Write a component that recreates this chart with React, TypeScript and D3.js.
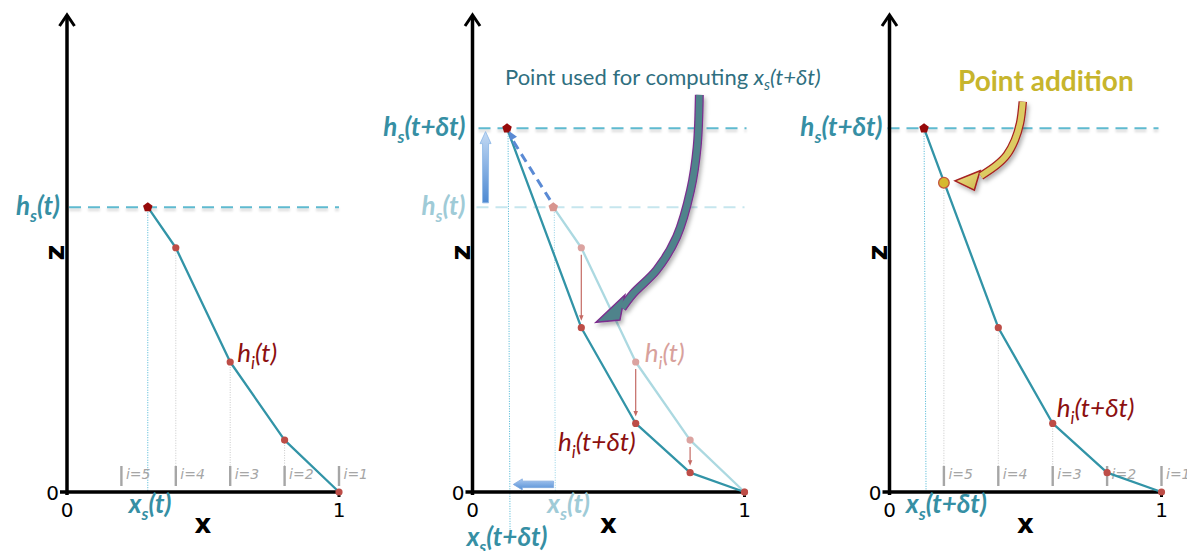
import React from 'react';
import * as d3 from 'd3';

// ---------- data ----------
const gridX = [0.2, 0.4, 0.6, 0.8, 1.0];
const gridLabels = ['i=5', 'i=4', 'i=3', 'i=2', 'i=1'];
const oldX = [0.297, 0.4, 0.6, 0.8, 1.0];
const oldZ = [1.047, 0.898, 0.478, 0.191, 0];
const newX = [0.127, 0.4, 0.6, 0.8, 1.0];
const newZ = [1.337, 0.604, 0.252, 0.071, 0];
const addedX = 0.2;
const addedZ = 1.137;
// annotation arrow geometry (data units of each panel)
const bigArrowSpine: [number, number][] = [[0.834, 1.46], [0.826, 1.269], [0.802, 1.11], [0.751, 0.939], [0.677, 0.816], [0.591, 0.73], [0.55, 0.676]];
const bigArrowHead: [number, number][] = [[0.56, 0.724], [0.454, 0.624], [0.542, 0.632]];
const yellowArrowSpine: [number, number][] = [[0.49, 1.435], [0.48, 1.356], [0.461, 1.294], [0.431, 1.239], [0.394, 1.202], [0.336, 1.162]];
const yellowArrowHead: [number, number][] = [[0.333, 1.181], [0.241, 1.144], [0.312, 1.11]];
const dashedArrow: [number, number][] = [[0.285, 1.074], [0.134, 1.327]];
const upArrow: [number, number][] = [[0.048, 1.063], [0.048, 1.325]];
const leftArrow: [number, number][] = [[0.298, 0.028], [0.15, 0.028]];

// ---------- layout ----------
const W = 1187, H = 551;
const panelX0 = [67, 472.5, 889.5];
const UNIT = 272;
const Y0 = 492;

const LAB = "Lato, 'Open Sans', sans-serif";
const NUM = "'DejaVu Sans', Verdana, sans-serif";
const TEAL = '#3294a7';
const TEAL_TXT = '#368fa4';
const LIGHT_TXT = '#9fcbd7';
const DARKRED = '#8c1010';
const PT = '#bd4d47';
const FS = 26;

const zS = d3.scaleLinear().domain([0, 1]).range([Y0, Y0 - UNIT]);
const mkX = (x0: number) => d3.scaleLinear().domain([0, 1]).range([x0, x0 + UNIT]);

function pentagon(cx: number, cy: number, r: number) {
  const pts = d3.range(5).map(k => {
    const a = (-90 + k * 72) * Math.PI / 180;
    return [cx + r * Math.cos(a), cy + r * Math.sin(a)];
  });
  return 'M' + pts.map(p => p.join(',')).join('L') + 'Z';
}

function blockArrow(x1: number, y1: number, x2: number, y2: number, sw: number, hw: number, hl: number) {
  const dx = x2 - x1, dy = y2 - y1, L = Math.hypot(dx, dy);
  const ux = dx / L, uy = dy / L, nx = -uy, ny = ux;
  const bx = x2 - ux * hl, by = y2 - uy * hl;
  const p = [
    [x1 + nx * sw / 2, y1 + ny * sw / 2],
    [bx + nx * sw / 2, by + ny * sw / 2],
    [bx + nx * hw / 2, by + ny * hw / 2],
    [x2, y2],
    [bx - nx * hw / 2, by - ny * hw / 2],
    [bx - nx * sw / 2, by - ny * sw / 2],
    [x1 - nx * sw / 2, y1 - ny * sw / 2],
  ];
  return 'M' + p.map(q => q.join(',')).join('L') + 'Z';
}

function triHead(x1: number, y1: number, x2: number, y2: number, w: number, l: number) {
  const dx = x2 - x1, dy = y2 - y1, L = Math.hypot(dx, dy);
  const ux = dx / L, uy = dy / L, nx = -uy, ny = ux;
  const bx = x2 - ux * l, by = y2 - uy * l;
  return `M${x2},${y2}L${bx + nx * w / 2},${by + ny * w / 2}L${bx - nx * w / 2},${by - ny * w / 2}Z`;
}

type SubProps = { x: number; y: number; base: string; sub: string; rest: string; color: string; size: number; weight?: string | number; italic?: boolean; anchor?: string };
function SubText({ x, y, base, sub, rest, color, size, weight = 'normal', italic = true, anchor = 'start' }: SubProps) {
  return (
    <text x={x} y={y} fill={color} fontSize={size} fontWeight={weight} fontStyle={italic ? 'italic' : 'normal'} fontFamily={LAB} textAnchor={anchor as any}>
      <tspan>{base}</tspan>
      <tspan dy={size * 0.26} fontSize={size * 0.66}>{sub}</tspan>
      <tspan dy={-size * 0.26}>{rest}</tspan>
    </text>
  );
}

function Axes({ x0 }: { x0: number }) {
  const xS = mkX(x0);
  const zc = zS(0.88);
  return (
    <g>
      <line x1={x0} x2={x0} y1={Y0 + 3} y2={16} stroke="#000" strokeWidth={3.5} />
      <polyline points={`${x0 - 7.5},26 ${x0},15 ${x0 + 7.5},26`} fill="none" stroke="#000" strokeWidth={3} strokeLinejoin="miter" />
      <line x1={x0 - 7} x2={xS(1) + 1.5} y1={Y0} y2={Y0} stroke="#000" strokeWidth={3.5} />
      <line x1={xS(1)} x2={xS(1)} y1={Y0} y2={Y0 + 5} stroke="#000" strokeWidth={3} />
      <text x={x0 - 8} y={Y0 + 8} textAnchor="end" fontFamily={NUM} fontSize={20}>0</text>
      <text x={x0} y={Y0 + 25} textAnchor="middle" fontFamily={NUM} fontSize={20}>0</text>
      <text x={xS(1)} y={Y0 + 25} textAnchor="middle" fontFamily={NUM} fontSize={20}>1</text>
      <text x={xS(0.5)} y={Y0 + 41} textAnchor="middle" fontFamily={NUM} fontSize={26} fontWeight="bold">x</text>
      <text transform={`translate(${x0 - 13},${zc}) rotate(-90)`} textAnchor="middle" dy="0.37em" fontFamily={NUM} fontSize={27} fontWeight="bold">z</text>
    </g>
  );
}

function GridLabels({ x0 }: { x0: number }) {
  const xS = mkX(x0);
  return (
    <g>
      {gridX.map((g, i) => (
        <g key={i}>
          <line x1={xS(g)} x2={xS(g)} y1={466} y2={486} stroke="#a6a6a6" strokeWidth={2.4} />
          <text x={xS(g) + 4.5} y={479} fill="#a6a6a6" fontFamily={NUM} fontSize={14} fontStyle="italic">{gridLabels[i]}</text>
        </g>
      ))}
    </g>
  );
}

function Profile({ x0, xs, zs, color, ptColor, topColor }: { x0: number; xs: number[]; zs: number[]; color: string; ptColor: string; topColor: string }) {
  const xS = mkX(x0);
  const pts = xs.map((x, i) => [x, zs[i]] as [number, number]);
  const line = d3.line<[number, number]>().x(d => xS(d[0])).y(d => zS(d[1]));
  return (
    <g>
      <path d={line(pts) || ''} fill="none" stroke={color} strokeWidth={2.3} strokeLinejoin="round" />
      {pts.slice(1).map((p, i) => (
        <circle key={i} cx={xS(p[0])} cy={zS(p[1])} r={3.6} fill={ptColor} />
      ))}
      <path d={pentagon(xS(pts[0][0]), zS(pts[0][1]), 5)} fill={topColor} />
    </g>
  );
}

export default function App() {
  const [x1, x2, x3] = panelX0.map(mkX);
  const curve = d3.line<[number, number]>().curve(d3.curveCatmullRom.alpha(0.5));
  const map2 = (p: [number, number]) => [x2(p[0]), zS(p[1])] as [number, number];
  const map3 = (p: [number, number]) => [x3(p[0]), zS(p[1])] as [number, number];
  const bigSpine = curve(bigArrowSpine.map(map2)) || '';
  const bigHead = 'M' + bigArrowHead.map(map2).map(p => p.join(',')).join('L') + 'Z';
  const ySpine = curve(yellowArrowSpine.map(map3)) || '';
  const yHead = 'M' + yellowArrowHead.map(map3).map(p => p.join(',')).join('L') + 'Z';
  const [da0, da1] = dashedArrow.map(map2);
  const [ua0, ua1] = upArrow.map(map2);
  const [la0, la1] = leftArrow.map(map2);
  const dashLine = { stroke: '#5fbad0', strokeWidth: 2, strokeDasharray: '12 7' };

  const HLine = ({ xa, xb, y, color }: { xa: number; xb: number; y: number; color: string }) => (
    <g>
      <line x1={xa} x2={xb} y1={y + 2.5} y2={y + 2.5} stroke="#000" strokeOpacity={0.12} strokeWidth={3} strokeDasharray="12 7" filter="url(#blur)" />
      <line x1={xa} x2={xb} y1={y} y2={y} {...dashLine} stroke={color} />
    </g>
  );

  return (
    <svg width={W} height={H} style={{ position: 'absolute', left: 0, top: 0, background: '#fff' }}>
      <defs>
        <filter id="sh" x="-30%" y="-30%" width="160%" height="160%">
          <feDropShadow dx="2" dy="3" stdDeviation="2" floodColor="#000" floodOpacity="0.3" />
        </filter>
        <filter id="blur" filterUnits="userSpaceOnUse" x="0" y="0" width={W} height={H}>
          <feGaussianBlur stdDeviation="1.3" />
        </filter>
        <linearGradient id="gUp" x1="0" y1="0" x2="0" y2="1">
          <stop offset="0" stopColor="#c4daf4" />
          <stop offset="1" stopColor="#4d89d2" />
        </linearGradient>
        <linearGradient id="gLeft" x1="0" y1="0" x2="0" y2="1">
          <stop offset="0" stopColor="#a9c8f0" />
          <stop offset="1" stopColor="#5590d6" />
        </linearGradient>
        <linearGradient id="gYel" x1="0" y1="0" x2="1" y2="1">
          <stop offset="0" stopColor="#efe08a" />
          <stop offset="1" stopColor="#cdb84a" />
        </linearGradient>
      </defs>

      {/* ================= Panel 1 ================= */}
      <g>
        <HLine xa={x1(0) + 2} xb={x1(1)} y={zS(oldZ[0])} color="#5fbad0" />
        {oldX.slice(1, 4).map((x, i) => (
          <line key={i} x1={x1(x)} x2={x1(x)} y1={zS(oldZ[i + 1])} y2={466} stroke="#c8c8c8" strokeWidth={1} strokeDasharray="1 1.5" />
        ))}
        <line x1={x1(oldX[0])} x2={x1(oldX[0])} y1={zS(oldZ[0])} y2={Y0} stroke="#45b3d3" strokeWidth={1} strokeDasharray="1 1.5" />
        <GridLabels x0={panelX0[0]} />
        <Axes x0={panelX0[0]} />
        <Profile x0={panelX0[0]} xs={oldX} zs={oldZ} color={TEAL} ptColor={PT} topColor="#960a0a" />
        <SubText x={x1(0) - 7} y={zS(oldZ[0]) + 8} base="h" sub="s" rest="(t)" color={TEAL_TXT} size={FS} weight="bold" anchor="end" />
        <SubText x={x1(oldX[2]) + 7} y={zS(oldZ[2])} base="h" sub="i" rest="(t)" color={DARKRED} size={FS} />
        <SubText x={x1(oldX[0]) - 19} y={Y0 + 21} base="x" sub="s" rest="(t)" color={TEAL_TXT} size={FS} weight="bold" />
      </g>

      {/* ================= Panel 2 ================= */}
      <g>
        <HLine xa={x2(0) + 6} xb={x2(1) + 2} y={zS(newZ[0])} color="#5fbad0" />
        <line x1={x2(0) + 4} x2={x2(1)} y1={zS(oldZ[0])} y2={zS(oldZ[0])} stroke="#c6e6ee" strokeWidth={2} strokeDasharray="12 7" />
        <line x1={x2(newX[0]) + 1} x2={x2(newX[0]) + 3} y1={zS(newZ[0])} y2={530} stroke="#45b3d3" strokeWidth={1} strokeDasharray="1 1.5" />
        <line x1={x2(oldX[0]) + 1} x2={x2(oldX[0]) + 2} y1={zS(oldZ[0])} y2={Y0} stroke="#8fd0e4" strokeWidth={1} strokeDasharray="1 1.5" />
        <Axes x0={panelX0[1]} />
        <Profile x0={panelX0[1]} xs={oldX} zs={oldZ} color="#acd9e1" ptColor="#dba3a0" topColor="#d8958f" />
        <Profile x0={panelX0[1]} xs={newX} zs={newZ} color={TEAL} ptColor={PT} topColor="#960a0a" />
        {oldX.slice(1, 4).map((x, i) => {
          const ya = zS(oldZ[i + 1]) + 7, yb = zS(newZ[i + 1]) - 7;
          return (
            <g key={i}>
              <line x1={x2(x)} x2={x2(x)} y1={ya} y2={yb - 4} stroke="#c46a64" strokeWidth={1.2} />
              <path d={triHead(x2(x), ya, x2(x), yb, 4.5, 5.5)} fill="#c46a64" />
            </g>
          );
        })}
        {/* dashed blue arrow */}
        <line x1={da0[0]} y1={da0[1]} x2={da1[0] + 3} y2={da1[1] + 8} stroke="#5a8ad4" strokeWidth={3} strokeDasharray="9 6" />
        <path d={triHead(da0[0], da0[1], da1[0], da1[1], 8, 9)} fill="#5a8ad4" />
        {/* block arrows */}
        <path d={blockArrow(ua0[0], ua0[1], ua1[0], ua1[1], 6, 11, 12)} fill="url(#gUp)" stroke="#8cb6e6" strokeWidth={0.8} />
        <path d={blockArrow(la0[0], la0[1], la1[0], la1[1], 6.5, 11, 9)} fill="url(#gLeft)" stroke="#7fa9e0" strokeWidth={0.8} />
        {/* big curved arrow */}
        <g filter="url(#sh)">
          <path d={bigSpine} fill="none" stroke="#7b2f8e" strokeWidth={9} strokeLinecap="butt" />
          <path d={bigHead} fill="#50838b" stroke="#7b2f8e" strokeWidth={1.5} strokeLinejoin="miter" />
          <path d={bigSpine} fill="none" stroke="#50838b" strokeWidth={6.5} strokeLinecap="butt" />
        </g>
        <SubText x={x2(0) - 7} y={zS(newZ[0]) + 8} base="h" sub="s" rest="(t+δt)" color={TEAL_TXT} size={FS} weight="bold" anchor="end" />
        <SubText x={x2(0) - 7} y={zS(oldZ[0]) + 8} base="h" sub="s" rest="(t)" color={LIGHT_TXT} size={FS} weight="bold" anchor="end" />
        <SubText x={x2(oldX[2]) + 9} y={zS(oldZ[2])} base="h" sub="i" rest="(t)" color="#d8a19c" size={FS} />
        <SubText x={x2(newX[2])} y={zS(newZ[2]) + 28} base="h" sub="i" rest="(t+δt)" color={DARKRED} size={FS} anchor="end" />
        <SubText x={x2(oldX[0]) - 6} y={Y0 + 21} base="x" sub="s" rest="(t)" color={LIGHT_TXT} size={FS} weight="bold" />
        <SubText x={x2(newX[0])} y={Y0 + 54} base="x" sub="s" rest="(t+δt)" color={TEAL_TXT} size={FS} weight="bold" anchor="middle" />
        <text x={505} y={85} fill="#2f6f7f" fontFamily={LAB} fontSize={22}>
          <tspan>Point used for computing </tspan>
          <tspan fontStyle="italic">x</tspan>
          <tspan fontStyle="italic" dy={5} fontSize={15}>s</tspan>
          <tspan fontStyle="italic" dy={-5}>(t+δt)</tspan>
        </text>
      </g>

      {/* ================= Panel 3 ================= */}
      <g>
        <HLine xa={x3(0) - 2} xb={x3(1) - 3} y={zS(newZ[0])} color="#5fbad0" />
        <line x1={x3(addedX)} x2={x3(addedX)} y1={zS(addedZ)} y2={466} stroke="#c8c8c8" strokeWidth={1} strokeDasharray="1 1.5" />
        {newX.slice(1, 4).map((x, i) => (
          <line key={i} x1={x3(x)} x2={x3(x)} y1={zS(newZ[i + 1])} y2={466} stroke="#c8c8c8" strokeWidth={1} strokeDasharray="1 1.5" />
        ))}
        <line x1={x3(newX[0])} x2={x3(newX[0]) + 2} y1={zS(newZ[0])} y2={Y0} stroke="#45b3d3" strokeWidth={1} strokeDasharray="1 1.5" />
        <GridLabels x0={panelX0[2]} />
        <Axes x0={panelX0[2]} />
        <Profile x0={panelX0[2]} xs={newX} zs={newZ} color={TEAL} ptColor={PT} topColor="#960a0a" />
        <circle cx={x3(addedX)} cy={zS(addedZ)} r={5.3} fill="#d6b92f" stroke="#c4563f" strokeWidth={1.3} />
        <g filter="url(#sh)">
          <path d={ySpine} fill="none" stroke="#a52020" strokeWidth={8.5} strokeLinecap="butt" />
          <path d={yHead} fill="url(#gYel)" stroke="#a52020" strokeWidth={1.5} strokeLinejoin="miter" />
          <path d={ySpine} fill="none" stroke="#dccb62" strokeWidth={6} strokeLinecap="butt" />
        </g>
        <text x={958} y={91} fill="#c7b52d" fontFamily={LAB} fontSize={28} fontWeight="bold">Point addition</text>
        <SubText x={x3(0) - 7} y={zS(newZ[0]) + 8} base="h" sub="s" rest="(t+δt)" color={TEAL_TXT} size={FS} weight="bold" anchor="end" />
        <SubText x={x3(newX[2]) + 4} y={zS(newZ[2]) - 6} base="h" sub="i" rest="(t+δt)" color={DARKRED} size={FS} />
        <SubText x={x3(newX[0]) - 18} y={Y0 + 21} base="x" sub="s" rest="(t+δt)" color={TEAL_TXT} size={FS} weight="bold" />
      </g>
    </svg>
  );
}
